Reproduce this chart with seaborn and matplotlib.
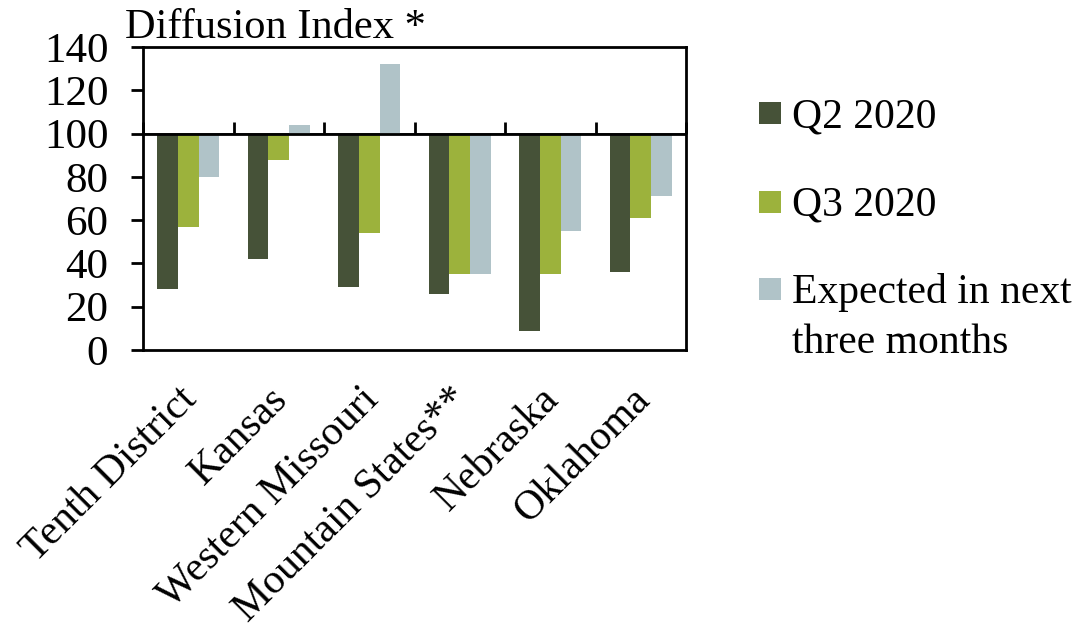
import matplotlib
matplotlib.use("Agg")
import matplotlib.pyplot as plt
import matplotlib.patches as mpatches
import numpy as np
import pandas as pd
import seaborn as sns

# Survey diffusion index by region (100 = no change)
regions = ["Tenth District", "Kansas", "Western Missouri",
           "Mountain States**", "Nebraska", "Oklahoma"]
q2_2020 = [28, 42, 29, 26, 9, 36]
q3_2020 = [57, 88, 54, 35, 35, 61]
expected = [80, 104, 132, 35, 55, 71]
series_names = ["Q2 2020", "Q3 2020", "Expected in next\nthree months"]
yticks = [0, 20, 40, 60, 80, 100, 120, 140]
baseline = 100

colors = ["#465238", "#9CB23C", "#B0C3C8"]

df = pd.DataFrame({
    "region": regions * 3,
    "series": np.repeat(series_names, len(regions)),
    "value": q2_2020 + q3_2020 + expected,
})

sns.set_theme(style="white")
plt.rcParams["font.family"] = ["Liberation Serif", "DejaVu Serif"]
plt.rcParams["text.color"] = "black"
plt.rcParams["xtick.color"] = "black"
plt.rcParams["ytick.color"] = "black"
plt.rcParams["axes.labelcolor"] = "black"

W, H = 1082, 631
fig = plt.figure(figsize=(W / 100, H / 100), dpi=100)
ax = fig.add_axes([143 / W, 1 - 350 / H, (686 - 143) / W, (350 - 47) / H])

sns.barplot(data=df, x="region", y="value", hue="series",
            order=regions, hue_order=series_names, palette=colors,
            width=0.69, linewidth=0, saturation=1, errorbar=None,
            legend=False, ax=ax)

# Bars grow up or down from the 100 baseline
for p in ax.patches:
    h = p.get_height()
    p.set_y(baseline)
    p.set_height(h - baseline)

ax.set_ylim(0, 140)
ax.set_xlim(-0.5, len(regions) - 0.5)
ax.set_yticks(yticks)
ax.set_xlabel("")
ax.set_ylabel("")

for s in ax.spines.values():
    s.set_visible(True)
    s.set_color("black")
    s.set_linewidth(2)

ax.tick_params(axis="y", which="major", direction="out", length=9,
               width=2, color="black", pad=16, labelsize=31, left=True)
ax.tick_params(axis="x", which="major", length=0, pad=29, labelsize=30)
for lbl in ax.get_xticklabels():
    lbl.set_rotation(45)
    lbl.set_ha("right")
    lbl.set_va("center_baseline")
    lbl.set_rotation_mode("anchor")

# Category axis crossing at 100 with boundary ticks
ax.axhline(baseline, color="black", lw=2, zorder=5)
sec = ax.secondary_xaxis(baseline / 140)
sec.set_xticks(np.arange(-0.5, len(regions), 1.0))
sec.set_xticklabels([])
sec.tick_params(axis="x", direction="out", length=9, width=2, color="black")
sec.spines["bottom"].set_linewidth(2)

fig.text(125 / W, 1 - 38 / H, "Diffusion Index *", fontsize=30.5,
         ha="left", va="baseline")

# Legend: colour swatch beside each series name, wrapped lines stacked below
legend_baselines = [127, 216, 303]
line_step = 50
for name, c, yb in zip(series_names, colors, legend_baselines):
    fig.patches.append(mpatches.Rectangle(
        (759 / W, 1 - (yb - 3) / H), 22 / W, 22 / H,
        transform=fig.transFigure, facecolor=c, edgecolor="none"))
    for k, line in enumerate(name.split("\n")):
        fig.text(792 / W, 1 - (yb + k * line_step) / H, line, fontsize=30,
                 ha="left", va="baseline")

fig.savefig("out.png", dpi=100)
